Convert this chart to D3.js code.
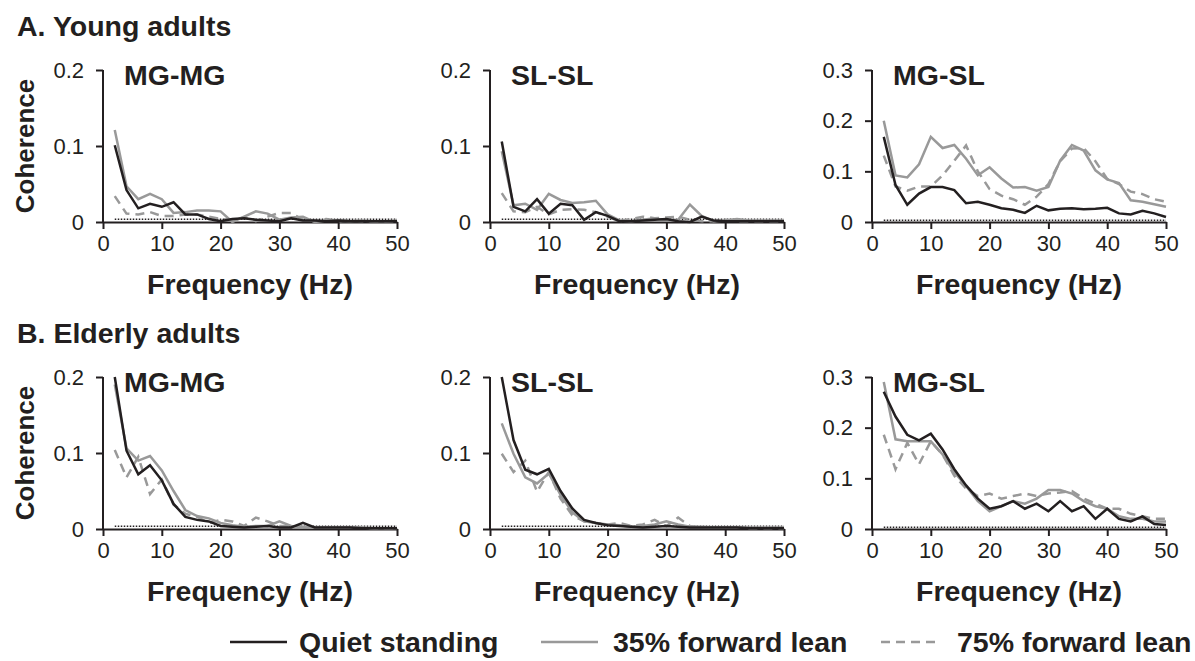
<!DOCTYPE html>
<html>
<head>
<meta charset="utf-8">
<script src="https://cdn.jsdelivr.net/npm/d3@7"></script>
<style>
  body { margin: 0; background: #fff; }
  text { font-family: "Liberation Sans", Arial, sans-serif; fill: #231f20; }
  .bold { font-weight: bold; }
</style>
</head>
<body>
<div id="chart"></div>
<script>
const freqs = [2,4,6,8,10,12,14,16,18,20,22,24,26,28,30,32,34,36,38,40,42,44,46,48,50];
const xTicks = [0, 10, 20, 30, 40, 50];

const seriesNames = ["Quiet standing", "35% forward lean", "75% forward lean"];

// young adults
const youngMGMG_quiet = [0.101,0.042,0.018,0.024,0.020,0.026,0.010,0.010,0.004,0.001,0.004,0.005,0.003,0.002,0.001,0.005,0.002,0.002,0.001,0.002,0.001,0.001,0.001,0.001,0.001];
const youngMGMG_35 = [0.121,0.047,0.030,0.037,0.030,0.012,0.013,0.015,0.015,0.014,0.000,0.007,0.014,0.011,0.003,0.006,0.007,0.000,0.002,0.002,0.001,0.002,0.001,0.001,0.002];
const youngMGMG_75 = [0.034,0.011,0.010,0.013,0.008,0.008,0.010,0.010,0.007,0.004,0.003,0.006,0.001,0.007,0.012,0.012,0.003,0.001,0.004,0.001,0.002,0.001,0.001,0.001,0.001];

const youngSLSL_quiet = [0.106,0.020,0.014,0.030,0.011,0.024,0.022,0.003,0.013,0.008,0.001,0.001,0.002,0.003,0.004,0.001,0.000,0.007,0.002,0.001,0.001,0.001,0.001,0.001,0.001];
const youngSLSL_35 = [0.093,0.022,0.024,0.016,0.037,0.029,0.025,0.026,0.028,0.010,0.002,0.001,0.003,0.005,0.002,0.003,0.023,0.008,0.001,0.002,0.004,0.002,0.002,0.002,0.002];
const youngSLSL_75 = [0.038,0.014,0.013,0.020,0.010,0.016,0.017,0.016,0.013,0.007,0.001,0.004,0.007,0.005,0.006,0.007,0.003,0.001,0.001,0.003,0.001,0.001,0.001,0.001,0.001];

const youngMGSL_quiet = [0.168,0.073,0.034,0.056,0.069,0.069,0.063,0.037,0.040,0.034,0.027,0.024,0.018,0.032,0.023,0.026,0.027,0.025,0.026,0.028,0.017,0.015,0.022,0.017,0.010];
const youngMGSL_35 = [0.200,0.092,0.088,0.114,0.168,0.146,0.152,0.125,0.092,0.108,0.086,0.068,0.069,0.062,0.069,0.121,0.152,0.141,0.102,0.084,0.077,0.043,0.040,0.035,0.030];
const youngMGSL_75 = [0.131,0.070,0.062,0.070,0.070,0.092,0.121,0.151,0.100,0.065,0.052,0.045,0.034,0.050,0.075,0.120,0.145,0.146,0.120,0.085,0.075,0.060,0.055,0.045,0.040];

// elderly adults
const elderMGMG_quiet = [0.200,0.103,0.072,0.084,0.064,0.033,0.016,0.012,0.010,0.004,0.003,0.002,0.003,0.004,0.002,0.002,0.008,0.002,0.002,0.002,0.002,0.001,0.001,0.001,0.001];
const elderMGMG_35 = [0.190,0.106,0.090,0.096,0.077,0.050,0.025,0.017,0.014,0.008,0.005,0.003,0.004,0.004,0.010,0.004,0.003,0.002,0.002,0.002,0.002,0.002,0.001,0.001,0.001];
const elderMGMG_75 = [0.104,0.068,0.095,0.046,0.065,0.032,0.020,0.016,0.008,0.012,0.010,0.004,0.015,0.010,0.004,0.004,0.002,0.002,0.002,0.002,0.002,0.002,0.001,0.001,0.001];

const elderSLSL_quiet = [0.200,0.117,0.078,0.072,0.079,0.050,0.027,0.012,0.008,0.005,0.004,0.003,0.002,0.003,0.004,0.003,0.002,0.002,0.002,0.002,0.002,0.001,0.001,0.001,0.001];
const elderSLSL_35 = [0.139,0.099,0.068,0.060,0.073,0.045,0.022,0.010,0.008,0.006,0.005,0.003,0.004,0.006,0.010,0.006,0.003,0.003,0.002,0.002,0.002,0.002,0.002,0.002,0.002];
const elderSLSL_75 = [0.099,0.075,0.090,0.049,0.075,0.040,0.018,0.010,0.008,0.006,0.008,0.004,0.006,0.012,0.004,0.015,0.004,0.002,0.002,0.002,0.002,0.001,0.001,0.001,0.001];

const elderMGSL_quiet = [0.271,0.222,0.186,0.175,0.188,0.157,0.118,0.086,0.060,0.040,0.045,0.055,0.040,0.050,0.035,0.055,0.035,0.045,0.020,0.040,0.020,0.015,0.025,0.010,0.008];
const elderMGSL_35 = [0.290,0.177,0.173,0.173,0.173,0.147,0.112,0.085,0.055,0.035,0.045,0.055,0.050,0.060,0.077,0.077,0.070,0.055,0.045,0.040,0.025,0.020,0.020,0.015,0.015];
const elderMGSL_75 = [0.186,0.118,0.170,0.128,0.173,0.147,0.105,0.080,0.065,0.070,0.060,0.065,0.070,0.065,0.070,0.072,0.075,0.060,0.050,0.040,0.040,0.030,0.025,0.020,0.020];

const noiseLevel = 0.0035;

const panels = [
  {row: 0, col: 0, title: "MG-MG", yMax: 0.2, series: [youngMGMG_quiet, youngMGMG_35, youngMGMG_75]},
  {row: 0, col: 1, title: "SL-SL", yMax: 0.2, series: [youngSLSL_quiet, youngSLSL_35, youngSLSL_75]},
  {row: 0, col: 2, title: "MG-SL", yMax: 0.3, series: [youngMGSL_quiet, youngMGSL_35, youngMGSL_75]},
  {row: 1, col: 0, title: "MG-MG", yMax: 0.2, series: [elderMGMG_quiet, elderMGMG_35, elderMGMG_75]},
  {row: 1, col: 1, title: "SL-SL", yMax: 0.2, series: [elderSLSL_quiet, elderSLSL_35, elderSLSL_75]},
  {row: 1, col: 2, title: "MG-SL", yMax: 0.3, series: [elderMGSL_quiet, elderMGSL_35, elderMGSL_75]}
];
const rowTitles = ["A. Young adults", "B. Elderly adults"];

const width = 1195, height = 661;
const colX = [103, 490, 872], rowY = [70, 377];
const pw = 294, ph = 152;

const styles = [
  {stroke: "#231f20", dash: null},
  {stroke: "#999999", dash: null},
  {stroke: "#999999", dash: "9,6"}
];

const svg = d3.select("#chart").append("svg")
  .attr("width", width)
  .attr("height", height)
  .attr("viewBox", [0, 0, width, height]);

svg.append("rect").attr("width", width).attr("height", height).attr("fill", "#fff");

rowTitles.forEach((t, i) => {
  svg.append("text")
    .attr("class", "bold")
    .attr("x", 17)
    .attr("y", rowY[i] - 34)
    .style("font-size", "28.5px")
    .text(t);

  svg.append("text")
    .attr("class", "bold")
    .attr("transform", `translate(34,${rowY[i] + ph / 2}) rotate(-90)`)
    .attr("text-anchor", "middle")
    .style("font-size", "26px")
    .text("Coherence");
});

panels.forEach(p => {
  const g = svg.append("g")
    .attr("transform", `translate(${colX[p.col]},${rowY[p.row]})`);

  const x = d3.scaleLinear().domain([0, 50]).range([0, pw]);
  const y = d3.scaleLinear().domain([0, p.yMax]).range([ph, 0]);

  const xAxis = d3.axisBottom(x).tickValues(xTicks).tickSize(7).tickSizeOuter(0).tickPadding(6);
  const yAxis = d3.axisLeft(y).tickValues(d3.range(0, p.yMax + 0.001, 0.1))
    .tickFormat(d => d < 0.001 ? "0" : d3.format(".1f")(d))
    .tickSize(7).tickSizeOuter(0).tickPadding(12);

  const gx = g.append("g").attr("transform", `translate(0,${ph})`).call(xAxis);
  const gy = g.append("g").call(yAxis);

  [gx, gy].forEach(a => {
    a.selectAll(".domain").attr("stroke", "#231f20").attr("stroke-width", 2);
    a.selectAll(".tick line").attr("stroke", "#231f20").attr("stroke-width", 2);
    a.selectAll(".tick text")
      .attr("fill", "#231f20")
      .style("font-family", "'Liberation Sans', Arial, sans-serif")
      .style("font-size", "22px");
  });
  gy.select(".domain").attr("d", `M0,${ph + 1}V0`);

  // dotted significance level
  g.append("line")
    .attr("x1", x(2)).attr("x2", x(50))
    .attr("y1", y(noiseLevel)).attr("y2", y(noiseLevel))
    .attr("stroke", "#231f20")
    .attr("stroke-width", 1.5)
    .attr("stroke-dasharray", "1.5,1.5");

  const line = d3.line()
    .x((d, i) => x(freqs[i]))
    .y(d => y(d));

  // draw 75% first so the solid lines sit on top
  [2, 1, 0].forEach(k => {
    g.append("path")
      .datum(p.series[k])
      .attr("d", line)
      .attr("fill", "none")
      .attr("stroke", styles[k].stroke)
      .attr("stroke-width", 2.5)
      .attr("stroke-linejoin", "miter")
      .attr("stroke-dasharray", styles[k].dash);
  });

  g.append("text")
    .attr("class", "bold")
    .attr("x", 21)
    .attr("y", 15)
    .style("font-size", "28.5px")
    .text(p.title);

  g.append("text")
    .attr("class", "bold")
    .attr("x", pw / 2)
    .attr("y", ph + 72)
    .attr("text-anchor", "middle")
    .style("font-size", "28.5px")
    .text("Frequency (Hz)");
});

// legend
const legendLineX = [230, 541, 881], legendTextX = [299, 613, 957], legendY = 642;
const legend = svg.append("g");
seriesNames.forEach((name, i) => {
  legend.append("line")
    .attr("x1", legendLineX[i]).attr("x2", legendLineX[i] + 57)
    .attr("y1", legendY).attr("y2", legendY)
    .attr("stroke", styles[i].stroke)
    .attr("stroke-width", 2.5)
    .attr("stroke-dasharray", styles[i].dash);
  legend.append("text")
    .attr("class", "bold")
    .attr("x", legendTextX[i])
    .attr("y", legendY + 10)
    .style("font-size", "28.5px")
    .text(name);
});
</script>
</body>
</html>
